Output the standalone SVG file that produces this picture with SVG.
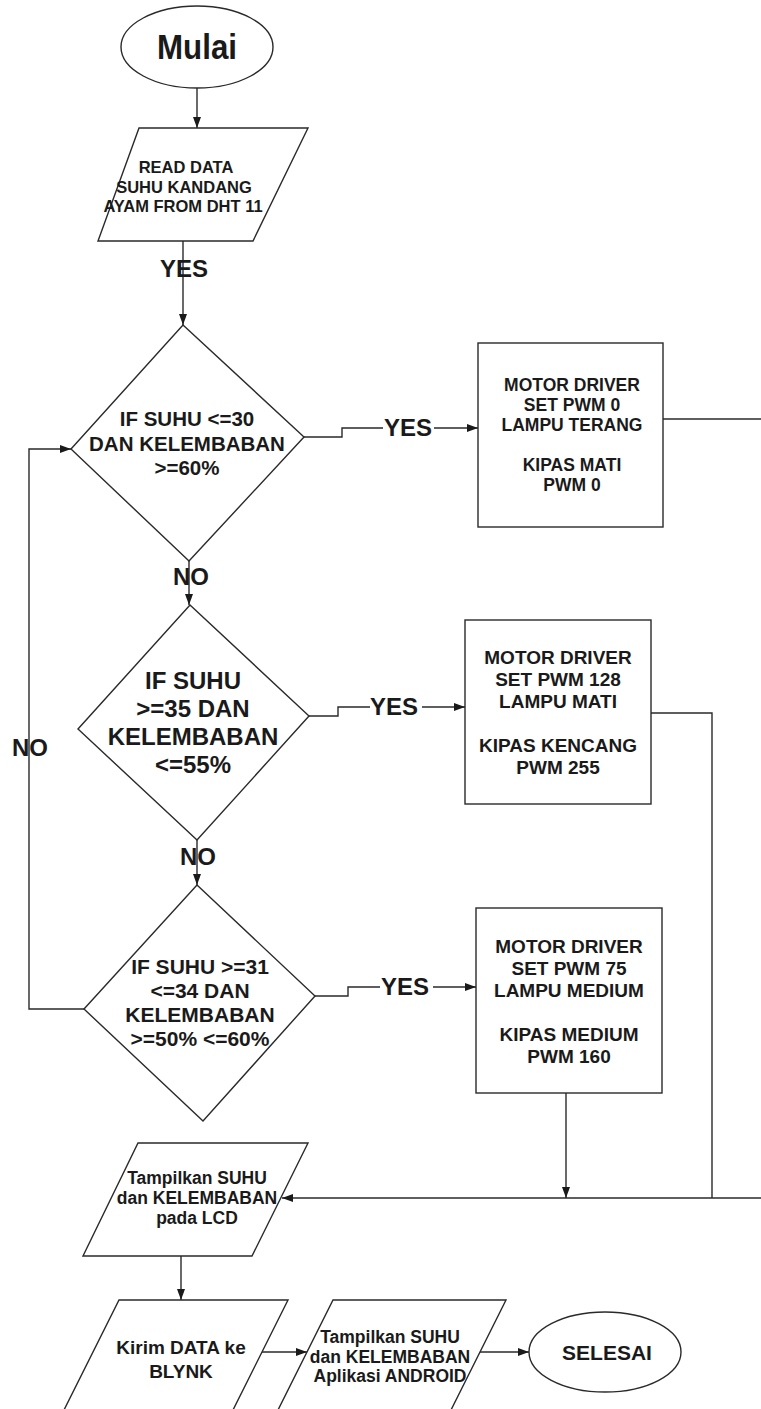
<svg xmlns="http://www.w3.org/2000/svg" width="761" height="1409" viewBox="0 0 761 1409">
<style>
.s{fill:#fff;stroke:#2a2a2a;stroke-width:1.4}
.c{fill:none;stroke:#2a2a2a;stroke-width:1.4}
text{font-family:"Liberation Sans",Arial,sans-serif;font-weight:bold;fill:#1a1a1a;text-anchor:middle}
.t16{font-size:16.5px}
.t17{font-size:17.5px}
.t19{font-size:19px}
.t20{font-size:20.5px}
.t21{font-size:21px}
.t24{font-size:24px}
</style>
<defs>
<marker id="ah" markerUnits="userSpaceOnUse" markerWidth="11" markerHeight="8" refX="11" refY="4" orient="auto">
<path d="M0,0 L11,4 L0,8 z" fill="#1a1a1a"/>
</marker>
</defs>
<rect width="761" height="1409" fill="#fff"/>

<g id="connectors">
<path class="c" d="M197,88 V128" marker-end="url(#ah)"/>
<path class="c" d="M183,241 V325" marker-end="url(#ah)"/>
<path class="c" d="M304,437 H342 V428 H383"/>
<path class="c" d="M434,428 H478" marker-end="url(#ah)"/>
<path class="c" d="M189,561 V605" marker-end="url(#ah)"/>
<path class="c" d="M309,716 H338 V707 H370"/>
<path class="c" d="M422,707 H465" marker-end="url(#ah)"/>
<path class="c" d="M197,840 V885" marker-end="url(#ah)"/>
<path class="c" d="M315,996 H348 V987 H380"/>
<path class="c" d="M433,987 H476" marker-end="url(#ah)"/>
<path class="c" d="M84,1009 H29 V449 H71" marker-end="url(#ah)"/>
<path class="c" d="M663,419 H761"/>
<path class="c" d="M651,713 H712 V1198"/>
<path class="c" d="M761,1198 H282" marker-end="url(#ah)"/>
<path class="c" d="M566,1093 V1198" marker-end="url(#ah)"/>
<path class="c" d="M181,1256 V1300" marker-end="url(#ah)"/>
<path class="c" d="M257,1352 H307" marker-end="url(#ah)"/>
<path class="c" d="M473,1352 H529" marker-end="url(#ah)"/>
<text class="t24" x="184" y="277">YES</text>
<text class="t24" x="408" y="436">YES</text>
<text class="t24" x="394" y="715">YES</text>
<text class="t24" x="405" y="995">YES</text>
<text class="t24" x="191" y="585">NO</text>
<text class="t24" x="198" y="865">NO</text>
<text class="t24" x="30" y="756">NO</text>
</g>

<g id="start">
<ellipse class="s" cx="197" cy="47" rx="76" ry="41"/>
<text x="197" y="59" font-size="35" textLength="80" lengthAdjust="spacingAndGlyphs">Mulai</text>
</g>

<g id="read">
<polygon class="s" points="139,128 308,128 253,241 98,241"/>
<text class="t16" x="186" y="173">READ DATA</text>
<text class="t16" x="184" y="193">SUHU KANDANG</text>
<text class="t16" x="183" y="212">AYAM FROM DHT 11</text>
</g>

<g id="dec1">
<polygon class="s" points="183,325 304,437 189,561 71,449"/>
<text class="t20" x="187" y="426">IF SUHU &lt;=30</text>
<text class="t20" x="187" y="451">DAN KELEMBABAN</text>
<text class="t20" x="187" y="475">&gt;=60%</text>
</g>

<g id="box1">
<rect class="s" x="478" y="343" width="185" height="184"/>
<text class="t17" x="572" y="391">MOTOR DRIVER</text>
<text class="t17" x="572" y="411">SET PWM 0</text>
<text class="t17" x="572" y="431">LAMPU TERANG</text>
<text class="t17" x="572" y="471">KIPAS MATI</text>
<text class="t17" x="572" y="491">PWM 0</text>
</g>

<g id="dec2">
<polygon class="s" points="190,605 309,716 197,840 78,729"/>
<text class="t24" x="193" y="689">IF SUHU</text>
<text class="t24" x="193" y="717">&gt;=35 DAN</text>
<text class="t24" x="193" y="745">KELEMBABAN</text>
<text class="t24" x="193" y="773">&lt;=55%</text>
</g>

<g id="box2">
<rect class="s" x="465" y="620" width="186" height="184"/>
<text class="t19" x="558" y="664">MOTOR DRIVER</text>
<text class="t19" x="558" y="686">SET PWM 128</text>
<text class="t19" x="558" y="708">LAMPU MATI</text>
<text class="t19" x="558" y="752">KIPAS KENCANG</text>
<text class="t19" x="558" y="774">PWM 255</text>
</g>

<g id="dec3">
<polygon class="s" points="197,885 315,996 203,1121 84,1009"/>
<text class="t21" x="200" y="974">IF SUHU &gt;=31</text>
<text class="t21" x="200" y="998">&lt;=34 DAN</text>
<text class="t21" x="200" y="1022">KELEMBABAN</text>
<text class="t21" x="200" y="1046">&gt;=50% &lt;=60%</text>
</g>

<g id="box3">
<rect class="s" x="476" y="908" width="186" height="185"/>
<text class="t19" x="569" y="953">MOTOR DRIVER</text>
<text class="t19" x="569" y="975">SET PWM 75</text>
<text class="t19" x="569" y="997">LAMPU MEDIUM</text>
<text class="t19" x="569" y="1041">KIPAS MEDIUM</text>
<text class="t19" x="569" y="1063">PWM 160</text>
</g>

<g id="lcd">
<polygon class="s" points="138,1143 308,1143 252,1256 83,1256"/>
<text class="t17" x="197" y="1184">Tampilkan SUHU</text>
<text class="t17" x="197" y="1204">dan KELEMBABAN</text>
<text class="t17" x="197" y="1224">pada LCD</text>
</g>

<g id="blynk">
<polygon class="s" points="119,1300 288,1300 232,1412 63,1412"/>
<text class="t19" x="181" y="1354">Kirim DATA ke</text>
<text class="t19" x="181" y="1378">BLYNK</text>
</g>

<g id="android">
<polygon class="s" points="333,1300 506,1300 450,1412 277,1412"/>
<text class="t17" x="390" y="1343">Tampilkan SUHU</text>
<text class="t17" x="390" y="1363">dan KELEMBABAN</text>
<text class="t17" x="390" y="1382">Aplikasi ANDROID</text>
</g>

<g id="end">
<ellipse class="s" cx="605" cy="1352" rx="76" ry="40"/>
<text class="t21" x="607" y="1360">SELESAI</text>
</g>
</svg>
